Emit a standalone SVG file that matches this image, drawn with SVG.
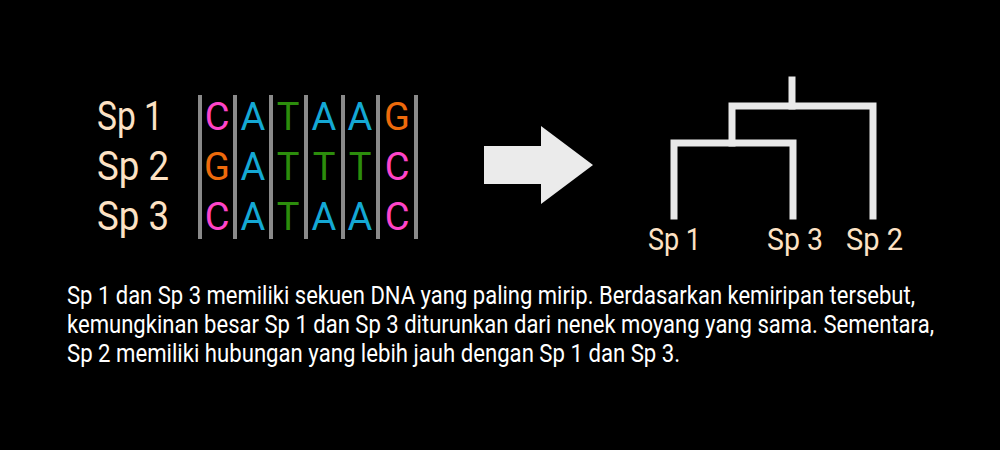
<svg xmlns="http://www.w3.org/2000/svg" width="1000" height="450" viewBox="0 0 1000 450">
<style>
.lbl{font-family:Roboto,"Liberation Sans",sans-serif;font-size:41px;fill:#fde2c4}
.tl{font-family:Roboto,"Liberation Sans",sans-serif;font-size:32px;fill:#fde2c4}
.b{font-family:Roboto,"Liberation Sans",sans-serif;font-size:38px;text-anchor:middle}
.C{fill:#ff44c8}.A{fill:#14a8d4}.T{fill:#2c8d0c}.G{fill:#ee6a0c}
.sep{stroke:#8a8a8a;stroke-width:4}
.br{stroke:#e9e9e9;stroke-width:7;fill:none;stroke-linecap:square}
.p{font-family:Roboto,"Liberation Sans",sans-serif;font-size:25.5px;fill:#ffffff}
</style>
<rect width="1000" height="450" fill="#000"/>
<g id="alignment">
<g id="labels">
<text class="lbl" x="97" y="130" textLength="66" lengthAdjust="spacingAndGlyphs">Sp 1</text>
<text class="lbl" x="97" y="180" textLength="72" lengthAdjust="spacingAndGlyphs">Sp 2</text>
<text class="lbl" x="97" y="230" textLength="72" lengthAdjust="spacingAndGlyphs">Sp 3</text>
</g>
<g id="separators">
<line class="sep" x1="200" y1="95" x2="200" y2="239"/>
<line class="sep" x1="235" y1="95" x2="235" y2="239"/>
<line class="sep" x1="271" y1="95" x2="271" y2="239"/>
<line class="sep" x1="306" y1="95" x2="306" y2="239"/>
<line class="sep" x1="343" y1="95" x2="343" y2="239"/>
<line class="sep" x1="378" y1="95" x2="378" y2="239"/>
<line class="sep" x1="416" y1="95" x2="416" y2="239"/>
</g>
<g id="bases">
<text class="b C" x="217" y="130">C</text><text class="b A" x="253" y="130">A</text><text class="b T" x="288" y="130">T</text><text class="b A" x="324" y="130">A</text><text class="b A" x="360" y="130">A</text><text class="b G" x="397" y="130">G</text>
<text class="b G" x="217" y="180">G</text><text class="b A" x="253" y="180">A</text><text class="b T" x="288" y="180">T</text><text class="b T" x="324" y="180">T</text><text class="b T" x="360" y="180">T</text><text class="b C" x="397" y="180">C</text>
<text class="b C" x="217" y="230">C</text><text class="b A" x="253" y="230">A</text><text class="b T" x="288" y="230">T</text><text class="b A" x="324" y="230">A</text><text class="b A" x="360" y="230">A</text><text class="b C" x="397" y="230">C</text>
</g>
</g>
<g id="arrow">
<polygon points="484,146 541,146 541,126 593,165 541,204 541,184 484,184" fill="#ebebeb"/>
</g>
<g id="tree">
<g id="connectors">
<polyline class="br" points="674,216 674,143 793,143 793,216"/>
<polyline class="br" points="732,143 732,106 873,106 873,216"/>
<line class="br" x1="792" y1="80" x2="792" y2="106" stroke-linecap="butt"/>
</g>
<text class="tl" x="648" y="250" textLength="53" lengthAdjust="spacingAndGlyphs">Sp 1</text>
<text class="tl" x="767" y="250" textLength="56" lengthAdjust="spacingAndGlyphs">Sp 3</text>
<text class="tl" x="846" y="250" textLength="57" lengthAdjust="spacingAndGlyphs">Sp 2</text>
</g>
<g id="caption" transform="translate(67,0) scale(0.88,1)">
<text class="p" x="0" y="304" textLength="963.6" lengthAdjust="spacingAndGlyphs">Sp 1 dan Sp 3 memiliki sekuen DNA yang paling mirip. Berdasarkan kemiripan tersebut,</text>
<text class="p" x="0" y="333" textLength="985.2" lengthAdjust="spacingAndGlyphs">kemungkinan besar Sp 1 dan Sp 3 diturunkan dari nenek moyang yang sama. Sementara,</text>
<text class="p" x="0" y="362" textLength="696.6" lengthAdjust="spacingAndGlyphs">Sp 2 memiliki hubungan yang lebih jauh dengan Sp 1 dan Sp 3.</text>
</g>
</svg>
